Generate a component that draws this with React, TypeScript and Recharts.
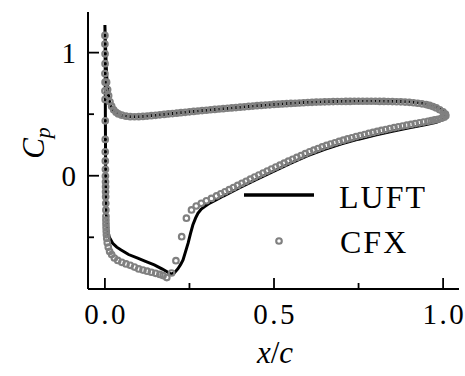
import { ComposedChart, Line, Scatter, XAxis, YAxis, Legend, Label } from "recharts";

// Pressure coefficient along the chord, LUFT solver vs. CFX reference
const CHART_W = 465;
const CHART_H = 376;
const PLOT = { left: 88, top: 12, right: 459, bottom: 289 };
const SERIF = "Liberation Serif";
const GRAY = "#808080";

const X_DOMAIN = [-0.05, 1.047];
const Y_DOMAIN = [-0.92, 1.33];
const X_TICKS = [0, 0.25, 0.5, 0.75, 1.0];
const Y_TICKS = [-0.5, 0, 0.5, 1];

// LUFT curve, ordered: trailing edge -> pressure side -> leading edge -> suction side -> trailing edge
const LUFT_PRESSURE: [number, number][] = [
  [1.008, 0.5], [1.0, 0.525], [0.99, 0.545], [0.98, 0.558], [0.96, 0.576], [0.94, 0.588],
  [0.9, 0.6], [0.85, 0.605], [0.8, 0.607], [0.75, 0.607], [0.7, 0.605], [0.65, 0.601],
  [0.6, 0.596], [0.55, 0.588], [0.5, 0.579], [0.45, 0.569], [0.4, 0.557], [0.35, 0.545],
  [0.3, 0.532], [0.25, 0.519], [0.2, 0.505], [0.15, 0.491], [0.1, 0.48], [0.075, 0.479],
  [0.05, 0.49], [0.035, 0.505], [0.025, 0.53], [0.018, 0.565], [0.013, 0.61], [0.009, 0.68],
  [0.006, 0.78], [0.004, 0.88], [0.0025, 1.0], [0.001, 1.12], [0, 1.225],
];

const LUFT_SUCTION: [number, number][] = [
  [0.0005, 1.1], [0.001, 0.8], [0.0015, 0.4], [0.002, 0.1], [0.003, -0.15], [0.004, -0.3],
  [0.006, -0.4], [0.008, -0.44], [0.013, -0.5], [0.023, -0.548], [0.035, -0.58], [0.048, -0.603],
  [0.07, -0.64], [0.097, -0.67], [0.12, -0.695], [0.146, -0.724], [0.17, -0.758], [0.185, -0.782],
  [0.196, -0.8], [0.205, -0.79], [0.216, -0.755], [0.224, -0.72], [0.231, -0.684], [0.238, -0.62],
  [0.246, -0.548], [0.253, -0.47], [0.26, -0.4], [0.268, -0.345], [0.275, -0.305], [0.285, -0.27],
  [0.295, -0.25], [0.31, -0.222], [0.33, -0.195], [0.35, -0.165], [0.4, -0.095], [0.45, -0.027],
  [0.5, 0.038], [0.55, 0.103], [0.6, 0.163], [0.65, 0.215], [0.7, 0.259], [0.75, 0.297],
  [0.8, 0.331], [0.85, 0.361], [0.9, 0.389], [0.95, 0.415], [0.98, 0.434], [1.0, 0.456], [1.008, 0.49],
];

// CFX surface samples
const CFX_PRESSURE: [number, number][] = [
  [0.005, 0.76], [0.008, 0.7], [0.011, 0.65], [0.015, 0.6], [0.02, 0.565], [0.026, 0.535],
  [0.033, 0.515], [0.04, 0.502], [0.05, 0.492], [0.0625, 0.484], [0.075, 0.48], [0.0875, 0.479],
  [0.1, 0.48], [0.1125, 0.482], [0.125, 0.485], [0.1375, 0.488], [0.15, 0.491], [0.1625, 0.495],
  [0.175, 0.498], [0.1875, 0.502], [0.2, 0.505], [0.2125, 0.508], [0.225, 0.512], [0.2375, 0.515],
  [0.25, 0.519], [0.2625, 0.522], [0.275, 0.526], [0.2875, 0.529], [0.3, 0.532], [0.3125, 0.536],
  [0.325, 0.539], [0.3375, 0.542], [0.35, 0.545], [0.3625, 0.548], [0.375, 0.551], [0.3875, 0.554],
  [0.4, 0.557], [0.4125, 0.56], [0.425, 0.563], [0.4375, 0.566], [0.45, 0.569], [0.4625, 0.571],
  [0.475, 0.574], [0.4875, 0.576], [0.5, 0.579], [0.5125, 0.581], [0.525, 0.583], [0.5375, 0.585],
  [0.55, 0.587], [0.5625, 0.589], [0.575, 0.591], [0.5875, 0.593], [0.6, 0.595], [0.6125, 0.596],
  [0.625, 0.598], [0.6375, 0.599], [0.65, 0.6], [0.6625, 0.601], [0.675, 0.602], [0.6875, 0.603],
  [0.7, 0.603], [0.7125, 0.604], [0.725, 0.604], [0.7375, 0.605], [0.75, 0.605], [0.7625, 0.605],
  [0.775, 0.605], [0.7875, 0.605], [0.8, 0.605], [0.8125, 0.604], [0.825, 0.604], [0.8375, 0.603],
  [0.85, 0.602], [0.8625, 0.601], [0.875, 0.6], [0.8875, 0.598], [0.9, 0.596], [0.9125, 0.593],
  [0.925, 0.589], [0.9375, 0.584], [0.95, 0.578], [0.96, 0.571], [0.97, 0.562], [0.98, 0.551],
  [0.99, 0.536], [1.0, 0.518], [1.007, 0.5],
];

const CFX_SUCTION: [number, number][] = [
  [0, 1.14], [0, 1.07], [0.0005, 0.99], [0.0005, 0.91], [0, 0.83], [0.0005, 0.76], [0, 0.69],
  [0.0005, 0.62], [0.001, 0.446], [0.001, 0.295], [0.001, 0.195], [0.0012, 0.12], [0.0015, 0.052],
  [0.0015, -0.002], [0.0018, -0.049], [0.002, -0.089], [0.002, -0.13], [0.0022, -0.17],
  [0.0025, -0.224], [0.0028, -0.278], [0.003, -0.33], [0.003, -0.36], [0.0032, -0.39],
  [0.0035, -0.42], [0.004, -0.45], [0.0045, -0.48], [0.0055, -0.51], [0.007, -0.545],
  [0.01, -0.58], [0.014, -0.615], [0.02, -0.64], [0.028, -0.668], [0.038, -0.688], [0.05, -0.703],
  [0.0625, -0.716], [0.075, -0.728], [0.0875, -0.742], [0.1, -0.757], [0.1125, -0.766],
  [0.125, -0.775], [0.1375, -0.784], [0.15, -0.793], [0.1625, -0.802], [0.172, -0.811],
  [0.183, -0.827], [0.197, -0.79], [0.21, -0.69], [0.227, -0.495], [0.241, -0.345], [0.256, -0.278],
  [0.27, -0.246], [0.285, -0.224], [0.3, -0.203], [0.315, -0.184], [0.33, -0.164], [0.3425, -0.147],
  [0.355, -0.13], [0.3675, -0.113], [0.38, -0.096], [0.3925, -0.079], [0.405, -0.062],
  [0.4175, -0.045], [0.43, -0.028], [0.4425, -0.011], [0.455, 0.006], [0.4675, 0.022], [0.48, 0.038],
  [0.4925, 0.054], [0.505, 0.07], [0.5175, 0.086], [0.53, 0.102], [0.5425, 0.118], [0.555, 0.134],
  [0.5675, 0.149], [0.58, 0.164], [0.5925, 0.179], [0.605, 0.194], [0.6175, 0.208], [0.63, 0.221],
  [0.6425, 0.234], [0.655, 0.246], [0.6675, 0.257], [0.68, 0.268], [0.6925, 0.279], [0.705, 0.289],
  [0.7175, 0.299], [0.73, 0.308], [0.7425, 0.318], [0.755, 0.327], [0.7675, 0.335], [0.78, 0.344],
  [0.7925, 0.352], [0.805, 0.36], [0.8175, 0.368], [0.83, 0.375], [0.8425, 0.383], [0.855, 0.39],
  [0.8675, 0.397], [0.88, 0.404], [0.8925, 0.411], [0.905, 0.417], [0.9175, 0.424], [0.93, 0.43],
  [0.9425, 0.436], [0.955, 0.442], [0.965, 0.447], [0.975, 0.453], [0.985, 0.459], [0.995, 0.467],
  [1.003, 0.476], [1.008, 0.487],
];

const toRows = (pts: [number, number][]) => pts.map(([x, cp]) => ({ x, cp }));
const luftData = toRows([...LUFT_PRESSURE, ...LUFT_SUCTION]);
const cfxData = toRows([...CFX_PRESSURE, ...CFX_SUCTION]);

const isMajor = (v: number, step: number) =>
  Math.abs(v / step - Math.round(v / step)) < 1e-6;

const serif = { fontFamily: SERIF };

// inward ticks, labels only on bottom/left majors
function BottomTick({ x, payload }: any) {
  const major = isMajor(payload.value, 0.5);
  return (
    <g>
      <line x1={x} x2={x} y1={PLOT.bottom} y2={PLOT.bottom - (major ? 11 : 6)} stroke="#000" strokeWidth={1.8} />
      {major && (
        <text x={x + 1.2} y={324} textAnchor="middle" fontSize={29} letterSpacing={2.5} style={serif}>
          {payload.value.toFixed(1)}
        </text>
      )}
    </g>
  );
}

function TopTick({ x, payload }: any) {
  const major = isMajor(payload.value, 0.5);
  return <line x1={x} x2={x} y1={PLOT.top} y2={PLOT.top + (major ? 11 : 6)} stroke="#000" strokeWidth={1.8} />;
}

function LeftTick({ y, payload }: any) {
  const major = isMajor(payload.value, 1);
  return (
    <g>
      <line x1={PLOT.left} x2={PLOT.left + (major ? 11 : 6)} y1={y} y2={y} stroke="#000" strokeWidth={1.8} />
      {major && (
        <text x={76} y={y + 10} textAnchor="end" fontSize={29} style={serif}>
          {String(payload.value)}
        </text>
      )}
    </g>
  );
}

function RightTick({ y, payload }: any) {
  const major = isMajor(payload.value, 1);
  return <line x1={PLOT.right} x2={PLOT.right - (major ? 11 : 6)} y1={y} y2={y} stroke="#000" strokeWidth={1.8} />;
}

function CfxMarker({ cx, cy }: any) {
  return <circle cx={cx} cy={cy} r={2.8} fill="none" stroke={GRAY} strokeWidth={2.1} />;
}

function LegendBox() {
  return (
    <svg width={200} height={90} style={{ display: "block" }}>
      <line x1={6} x2={76} y1={20} y2={20} stroke="#000" strokeWidth={3.5} />
      <text x={101} y={33} fontSize={32} letterSpacing={2} style={serif}>LUFT</text>
      <circle cx={41} cy={66} r={2.8} fill="none" stroke={GRAY} strokeWidth={2.1} />
      <text x={102} y={78} fontSize={32} letterSpacing={2} style={serif}>CFX</text>
    </svg>
  );
}

const XTitle = () => (
  <text x={275} y={363} textAnchor="middle" fontSize={31} style={serif}>
    <tspan fontStyle="italic">x</tspan>
    <tspan>/</tspan>
    <tspan fontStyle="italic">c</tspan>
  </text>
);

const YTitle = () => (
  <text transform="translate(44,143) rotate(-90)" textAnchor="middle" fontSize={31} fontStyle="italic" style={serif}>
    <tspan>C</tspan>
    <tspan fontSize={22} dy={6}>p</tspan>
  </text>
);

export default function App() {
  const axisLine = { stroke: "#000", strokeWidth: 2 };
  return (
    <div style={{ position: "absolute", left: 0, top: 0, background: "#fff", fontFamily: SERIF }}>
      <ComposedChart width={CHART_W} height={CHART_H} margin={{ top: PLOT.top, right: CHART_W - PLOT.right, bottom: 0, left: 0 }}>
        <XAxis xAxisId="b" type="number" dataKey="x" domain={X_DOMAIN} ticks={X_TICKS} interval={0}
          allowDataOverflow height={CHART_H - PLOT.bottom} axisLine={axisLine} tickLine={false} tick={BottomTick}>
          <Label content={XTitle} />
        </XAxis>
        <XAxis xAxisId="t" orientation="top" type="number" dataKey="x" domain={X_DOMAIN} ticks={X_TICKS} interval={0}
          allowDataOverflow height={0} axisLine={axisLine} tickLine={false} tick={TopTick} />
        <YAxis yAxisId="l" type="number" dataKey="cp" domain={Y_DOMAIN} ticks={Y_TICKS} interval={0}
          allowDataOverflow width={PLOT.left} axisLine={axisLine} tickLine={false} tick={LeftTick}>
          <Label content={YTitle} />
        </YAxis>
        <YAxis yAxisId="r" orientation="right" type="number" dataKey="cp" domain={Y_DOMAIN} ticks={Y_TICKS} interval={0}
          allowDataOverflow width={0} axisLine={axisLine} tickLine={false} tick={RightTick} />
        <Line xAxisId="b" yAxisId="l" data={luftData} dataKey="cp" type="linear" stroke="#000" strokeWidth={3}
          dot={false} activeDot={false} isAnimationActive={false} name="LUFT" />
        <Scatter xAxisId="b" yAxisId="l" data={cfxData} dataKey="cp" shape={CfxMarker}
          isAnimationActive={false} name="CFX" />
        <Legend layout="horizontal" verticalAlign="middle" align="center" content={LegendBox}
          wrapperStyle={{ left: 238, top: 175, width: 200, height: 90 }} />
      </ComposedChart>
    </div>
  );
}
